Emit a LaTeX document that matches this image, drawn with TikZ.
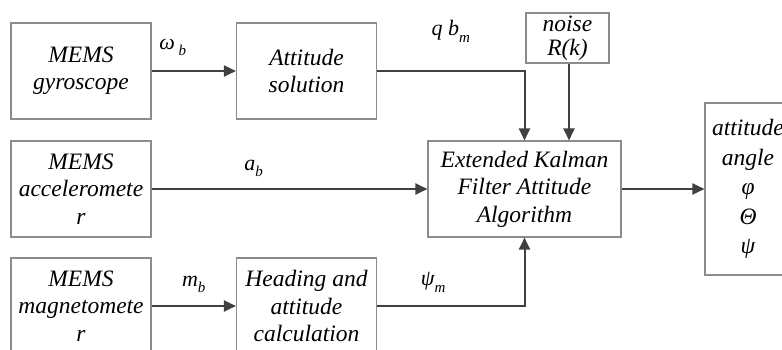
\documentclass[tikz,border=0pt]{standalone}
\usepackage{fontspec}
\setmainfont{Liberation Serif}
\usetikzlibrary{positioning,arrows.meta}
\definecolor{boxgray}{HTML}{8C8C8C}
\definecolor{linegray}{HTML}{404040}
\newcommand{\sub}[1]{\raisebox{-0.3em}{\fontsize{15}{15}\selectfont #1}}
\tikzset{
    block/.style={draw=boxgray, line width=1.1pt, rectangle, align=center,
        minimum width=140pt, minimum height=96pt, inner sep=0pt,
        font=\fontsize{23.5}{27.5}\selectfont\itshape},
    sig/.style={draw=linegray, line width=2pt,
        -{Triangle[length=12pt,width=11pt]}},
    lab/.style={font=\fontsize{22}{22}\selectfont\itshape, inner sep=1pt},
}

\begin{document}
\begin{tikzpicture}[x=1pt, y=1pt, node distance=118pt, on grid]
        \useasboundingbox (0,0) rectangle (782,-349);
        \clip (0,0) rectangle (782,-349);
        \node[block] (gyro) at (81,-71) {MEMS\\gyroscope};
        \node[block] (att)  [right=225.5pt of gyro] {Attitude\\solution};
        \node[block] (acc)  [below=of gyro] {MEMS\\acceleromete\\r};
        \node[block] (mag)  [below=117pt of acc] {MEMS\\magnetomete\\r};
        \node[block] (head) [right=225.5pt of mag] {Heading and\\attitude\\calculation};
        \node[block, minimum width=193pt] (ekf) [right=443.5pt of acc]
            {Extended Kalman\\Filter Attitude\\Algorithm};
        \node[block, minimum width=83pt, minimum height=50pt,
            font=\fontsize{23.5}{24}\selectfont\itshape] (noise) at (567.5,-38) {noise\\R(k)};
        \node[block, minimum width=86pt, minimum height=172pt,
            font=\fontsize{23.5}{29.5}\selectfont\itshape] (out) [right=223.5pt of ekf]
            {attitude\\angle\\φ\\Θ\\ψ};
        \draw[sig] (gyro) -- node[lab, above=13pt, pos=0.25] {ω\,\sub{b}} (att);
        \draw[sig] (att.east) -- node[lab, above=27pt] {q b\sub{m}} (att.east -| ekf.north) -- (ekf.north);
        \draw[sig] ([xshift=1.5pt]noise.south) -- ([xshift=44.5pt]ekf.north);
        \draw[sig] (acc) -- node[lab, above=10pt, pos=0.37] {a\sub{b}} (ekf);
        \draw[sig] (mag) -- node[lab, above=11pt] {m\sub{b}} (head);
        \draw[sig] (head.east) -- node[lab, above=12pt, pos=0.38] {ψ\sub{m}} (head.east -| ekf.south) -- (ekf.south);
        \draw[sig] (ekf) -- (out);
\end{tikzpicture}
\end{document}
